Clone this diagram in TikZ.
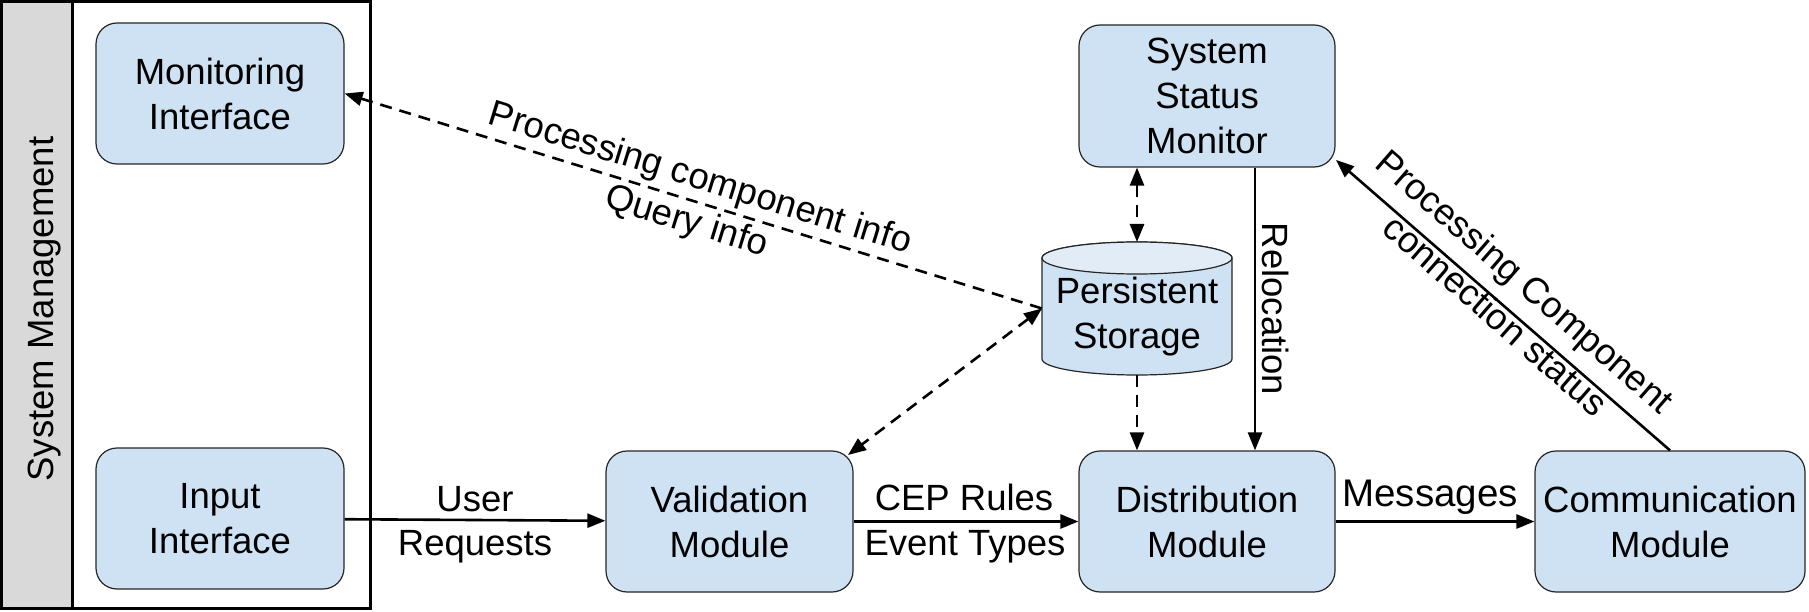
\documentclass[tikz,border=0pt]{standalone}
\usepackage{fontspec}
\setmainfont{Liberation Sans}
\usetikzlibrary{arrows.meta}
\definecolor{boxblue}{HTML}{CFE2F3}
\definecolor{topblue}{HTML}{E1ECF7}
\definecolor{stripgray}{HTML}{D9D9D9}
\begin{document}
\begin{tikzpicture}[x=1pt,y=-1pt,
  every node/.style={font=\fontsize{36.5}{45}\selectfont, inner sep=0pt},
  box/.style={draw=black!85, line width=1.2pt, fill=boxblue, rounded corners=21pt, align=center, minimum height=141pt},
  conn/.style={line width=2.6pt, >={Triangle[length=18pt,width=14pt]}},
  dconn/.style={conn, dash pattern=on 12pt off 8pt},
  lbl/.style={anchor=base},
]
\useasboundingbox (0,0) rectangle (1809,612);

% system management frame
\fill[stripgray] (1.5,1.5) rectangle (72,608);
\draw[line width=3pt] (1.5,1.5) rectangle (370.5,608);
\draw[line width=3pt] (72,1.5) -- (72,608);
\node[rotate=90, anchor=base] (sysm) at (53,309) {System Management};

% boxes
\node[box, minimum width=248pt] (monit) at (220,93.5) {Monitoring\\Interface};
\node[box, minimum width=248pt] (input) at (220,518.5) {Input\\Interface};
\node[box, minimum width=247pt] (valid) at (729.5,521.5) {Validation\\Module};
\node[box, minimum width=256pt] (distr) at (1207,521.5) {Distribution\\Module};
\node[box, minimum width=270pt] (comm) at (1670,521.5) {Communication\\Module};
\node[box, minimum width=256pt, minimum height=142pt] (ssm) at (1207,96) {System\\Status\\Monitor};

% persistent storage cylinder
\filldraw[fill=boxblue, draw=black!85, line width=1.2pt]
  (1042,258) -- (1042,359)
  arc[start angle=180, end angle=360, x radius=95pt, y radius=16pt]
  -- (1232,258)
  arc[start angle=0, end angle=180, x radius=95pt, y radius=16pt] -- cycle;
\filldraw[fill=topblue, draw=black!85, line width=1.2pt] (1137,258) ellipse [x radius=95pt, y radius=16pt];
\node[minimum width=190pt, minimum height=133pt, outer sep=0pt] (storage) at (1137,308.5) {};
\node[align=center] (storagetext) at (1137,316.5) {Persistent\\Storage};

% helper coordinates
\coordinate (ssmtip) at (1336,160);
\coordinate (validtip) at (848,455);

% solid connectors
\draw[conn,->] (input) -- (valid);
\draw[conn,->] (valid) -- (distr);
\draw[conn,->] (distr) -- (comm);
\draw[conn,<-] (ssmtip) -- node[pos=0.482, sloped, align=center, xshift=9.2pt, yshift=10.6pt] {Processing Component\\connection status} (comm.north);
\draw[conn,->] ([xshift=48pt]ssm.south) -- ([xshift=48pt]distr.north);

% dashed connectors
\draw[dconn,<->] ([xshift=-70pt]ssm.south) -- (storage.north);
\draw[dconn,->] (storage.south) -- ([xshift=-70pt]distr.north);
\draw[dconn,<->] (storage.west) -- (validtip);
\draw[dconn,<-] (monit.east) -- node[midway, sloped, align=center] {Processing component info\\Query info} (storage.west);

% labels
\node[lbl] (l-user) at (475,511) {User};
\node[lbl] (l-req) at (475,555) {Requests};
\node[lbl] (l-cep) at (964,510) {CEP Rules};
\node[lbl] (l-evt) at (965,555) {Event Types};
\node[lbl, font=\fontsize{38.5}{45}\selectfont] (l-msg) at (1430,506) {Messages};
\node[rotate=-90, anchor=base] (l-reloc) at (1262,309) {Relocation};
\end{tikzpicture}
\end{document}
